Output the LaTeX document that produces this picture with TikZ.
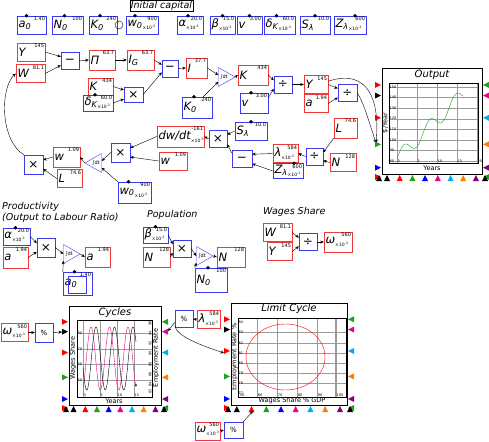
\documentclass[tikz,border=0pt]{standalone}
\usepackage{fontspec}
\setmainfont{DejaVu Sans}
\usepackage{xcolor}
\usepackage{tikz}
\usetikzlibrary{shapes.geometric,arrows.meta}
\definecolor{varred}{HTML}{F03A3A}
\definecolor{parblue}{HTML}{3A3AEE}
\definecolor{gridgray}{HTML}{9A9A9A}
\definecolor{pgreen}{HTML}{1FA01F}

\newcommand{\vf}{\fontsize{5}{5}\selectfont}
\newcommand{\nf}{\fontsize{11.5}{12}\selectfont\itshape}
\newcommand{\tens}{\raisebox{-3pt}{\fontsize{4.5}{5}\selectfont\upshape ×10\textsuperscript{-3}}}
\newcommand{\tk}{\fontsize{3.5}{4}\selectfont}

% ports round a plot frame: x0,y0 (top left), x1,y1 (bottom right)
\newcommand{\plotports}[4]{%
  \foreach \c/\f in {red/0.16,black/0.26,red/0.47,pgreen/0.72,blue/0.94}{%
    \pgfmathsetmacro{\py}{#2+\f*(#4-#2)}
    \fill[\c] (#1-1,\py) -- ++(-6,-3) -- ++(0,6) -- cycle;
  }
  \foreach \c/\f in {pgreen/0.16,magenta/0.26,cyan/0.47,orange/0.72,violet/0.94}{%
    \pgfmathsetmacro{\py}{#2+\f*(#4-#2)}
    \fill[\c] (#3+1,\py) -- ++(6,-3) -- ++(0,6) -- cycle;
  }
  \foreach \c [count=\i from 0] in {black,red,pgreen,blue,magenta,cyan,orange,violet}{%
    \pgfmathsetmacro{\px}{#1+(0.05+0.127*\i)*(#3-#1)}
    \fill[\c] (\px,#4+1) -- ++(-3,6) -- ++(6,0) -- cycle;
  }
  \fill[red] (#1-1,#4+3) -- ++(-6,-3) -- ++(0,6) -- cycle;
  \fill[black] (#1-3,#4+1) -- ++(-3,6) -- ++(6,0) -- cycle;
  \fill[pgreen] (#3+1,#4+3) -- ++(6,-3) -- ++(0,6) -- cycle;
  \fill[black] (#3+3,#4+1) -- ++(-3,6) -- ++(6,0) -- cycle;
}

\tikzset{
  box/.style={rectangle, inner sep=1.5pt, minimum height=18pt, font=\nf, align=left},
  varb/.style={box, draw=varred},
  parb/.style={box, draw=parblue},
  val/.style={label={[anchor=north east, inner sep=1pt, font=\vf]north east:#1}},
  pdot/.style={label={[fill=black, circle, inner sep=1.3pt, anchor=center, xshift=#1]north:{}}},
  pdot/.default=-3pt,
  op/.style={draw=parblue, rectangle, minimum width=18pt, minimum height=17pt, inner sep=0pt,
    font=\fontsize{12}{12}\selectfont},
  intg/.style={draw=parblue, regular polygon, regular polygon sides=3, shape border rotate=-90,
    minimum size=19pt, inner sep=0pt, font=\fontsize{5}{5}\selectfont},
  wire/.style={-{Stealth[length=3.5pt,width=3pt]}, thin},
  ttl/.style={font=\fontsize{9.5}{11}\selectfont\itshape, inner sep=0pt},
  axl/.style={font=\fontsize{6.5}{7}\selectfont, inner sep=0pt},
  tkl/.style={font=\tk, inner sep=0.5pt},
}

\begin{document}
\begin{tikzpicture}[x=1pt, y=-1pt]
\useasboundingbox (0,0) rectangle (489,441);

% initial values row
\node[ttl, draw, inner sep=1pt] (ttlIC) at (161.5,6) {Initial capital};
\node[parb, pdot=-5pt, text width=26pt, val=1.40] (a0t) at (31.5,25) {a\textsubscript{0}};
\node[parb, pdot, text width=28pt, val=100] (N0t) at (67.5,25) {N\textsubscript{0}};
\node[parb, pdot, text width=25pt, val=240] (K0t) at (103,25) {K\textsubscript{0}};
\node[draw, circle, minimum size=8pt, inner sep=0pt] (K0ring) at (119,25) {};
\node[parb, pdot=-7pt, text width=29pt, val=900] (w0t) at (142,25) {w\textsubscript{0}\tens};
\node[parb, pdot=-2pt, text width=23pt, val=20.0] (alt) at (190,25) {α\tens};
\node[parb, pdot=0pt, text width=22pt, val=15.0] (bet) at (222.5,25) {β\tens};
\node[parb, pdot=0pt, text width=22pt, val=3.00] (vt) at (249.5,25) {v};
\node[parb, pdot, text width=28pt, val=60.0] (dKt) at (279.5,25) {δ\textsubscript{K}\tens};
\node[parb, pdot=0pt, text width=27pt, val=10.0] (Slt) at (315,25) {S\textsubscript{λ}};
\node[parb, pdot=5pt, text width=29pt, val=600] (Zlt) at (350,25) {Z\textsubscript{λ}\tens};

% capital and output
\node[varb, text width=25pt, val=145] (Y1) at (31,52) {Y};
\node[varb, text width=26pt, val=81.1] (W1) at (30.5,73.5) {W};
\node[op] (sub1) at (70,61) {−};
\node[varb, text width=23pt, minimum height=20pt, val=63.7] (Pi) at (102,60) {Π};
\node[varb, text width=24pt, minimum height=20pt, val=63.7] (IG) at (140.5,60) {I\textsubscript{G}};
\node[op, minimum width=16pt] (sub2) at (170,68.5) {−};
\node[varb, text width=18pt, minimum height=20pt, val=37.7] (Ib) at (196.5,68) {I};
\node[intg] (int1) at (224,77) {∫dt};
\node[varb, text width=27pt, minimum height=20pt, val=434] (K1) at (253,75) {K};
\node[varb, text width=22pt, minimum height=17pt, val=434] (K2) at (100.5,86.5) {K};
\node[parb, pdot, text width=27pt, minimum height=16pt, val=60.0] (dK) at (98,103) {δ\textsubscript{K}\tens};
\node[op, minimum width=19pt, minimum height=15pt] (mul1) at (133.5,94.5) {×};
\node[parb, pdot, text width=27pt, minimum height=21pt, val=240] (K0m) at (197,107.5) {K\textsubscript{0}};
\node[parb, pdot, text width=25pt, minimum height=20pt, val=3.00] (vm) at (254,103) {v};
\node[op] (div1) at (283,84.5) {÷};
\node[varb, text width=21pt, val=145] (Y2) at (316,84.5) {Y};
\node[varb, text width=21pt, val=1.94] (a2) at (316,103.5) {a};
\node[op, minimum width=19pt] (div2) at (347.5,93) {÷};
\node[varb, text width=20pt, minimum height=20pt, val=74.6] (L2) at (345.5,128) {L};

% employment and wages
\node[parb, pdot=0pt, text width=29pt, val=10.0] (Sl) at (251,131) {S\textsubscript{λ}};
\node[op] (mul2) at (218,139) {×};
\node[varb, text width=44pt, minimum height=21pt, val=-161] (dwdt) at (180.5,136.5) {dw/dt\tens};
\node[op, minimum width=20pt] (sub3) at (242,159) {−};
\node[varb, text width=22pt, val=584] (lam) at (285.5,153.5) {λ\tens};
\node[parb, pdot=6pt, text width=27pt, minimum height=15pt, val=600] (Zl) at (288,171) {Z\textsubscript{λ}\tens};
\node[op, minimum width=17pt] (div3) at (314.5,156.5) {÷};
\node[varb, text width=23pt, val=128] (N2) at (343,162.5) {N};
\node[op, minimum width=19pt, minimum height=19pt] (mul3) at (33.5,164.5) {×};
\node[varb, text width=24pt, minimum height=20pt, val=1.09] (w1) at (66.5,157) {w};
\node[varb, text width=22pt, val=74.6] (L1) at (69.5,178.5) {L};
\node[intg, shape border rotate=90] (int2) at (96,163) {∫dt};
\node[op, minimum width=19pt, minimum height=19pt] (mul4) at (120.5,152.5) {×};
\node[varb, text width=25pt, val=1.09] (w2) at (173,161) {w};
\node[parb, pdot=-6pt, text width=30pt, minimum height=21pt, val=900] (w0m) at (134.5,192.5) {w\textsubscript{0}\tens};

\draw[wire] (Y1.east) -- (sub1.155);
\draw[wire] (W1.east) -- (sub1.205);
\draw[wire] (sub1.east) -- (Pi.west);
\draw[wire] (Pi.east) -- (IG.west);
\draw[wire] (IG.east) -- (sub2.155);
\draw[wire] (mul1.east) -- (sub2.205);
\draw[wire] (K2.east) -- (mul1.155);
\draw[wire] (dK.east) -- (mul1.205);
\draw[wire] (sub2.east) -- (Ib.west);
\draw[wire] (Ib.east) -- (int1.160);
\draw[wire] (int1.east) -- (K1.west);
\draw[wire] (K0m.60) -- (int1.220);
\draw[wire] (K1.east) -- (div1.155);
\draw[wire] (vm.20) -- (div1.205);
\draw[wire] (div1.east) -- (Y2.west);
\draw[wire] (Y2.east) -- (div2.155);
\draw[wire] (a2.east) -- (div2.205);
\coordinate (outP) at (376,143);
\draw[wire] (Y2.15) .. controls (368,68) and (380,100) .. (outP);
\draw[wire] (div2.east) .. controls (363,100) and (370,125) .. (outP);
\draw[wire] (L2.south west) -- (div3.25);
\draw[wire] (N2.west) -- (div3.335);
\draw[wire] (div3.west) -- (lam.east);
\draw[wire] (lam.west) -- (sub3.25);
\draw[wire] (Zl.west) -- (sub3.335);
\draw[wire] (Sl.west) -- (mul2.25);
\draw[wire] (sub3.150) -- (mul2.330);
\draw[wire] (mul2.west) -- (dwdt.east);
\draw[wire] (dwdt.west) -- (mul4.25);
\draw[wire] (w2.west) -- (mul4.335);
\draw[wire] (mul4.west) -- (int2.20);
\draw[wire] (w0m.north west) -- (int2.320);
\draw[wire] (int2.west) -- (w1.east);
\draw[wire] (w1.west) -- (mul3.25);
\draw[wire] (L1.west) -- (mul3.335);
\draw[wire] (mul3.north west) .. controls (0,140) and (0,88) .. (W1.west);

% output plot
\draw[thick] (382,68) rectangle (482,174);
\foreach \gx in {397,417,437,457,477} \draw[gridgray] (\gx,83) -- (\gx,163);
\foreach \v in {80,90,...,150} {
  \draw[gridgray] (389,{161-1.057*(\v-80)}) -- (478,{161-1.057*(\v-80)});
  \node[tkl, anchor=west] (oy\v) at (389,{161-1.057*(\v-80)}) {\v};
}
\foreach \t/\gx in {0/397,5/417,10/437,15/457,20/477}
  \node[tkl, anchor=south west] (ox\t) at (\gx,163) {\t};
\draw (389,83) rectangle (478,163);
\draw[pgreen, domain=0:16.5, samples=80, smooth]
  plot ({397+4*\x}, {161-1.057*(2+3.7*\x+7*sin(55.38*\x))});
\node[ttl, font=\fontsize{10}{11}\selectfont\itshape] (ttlO) at (432,75) {Output};
\node[axl] (xO) at (432,168.5) {Years};
\node[axl, rotate=90] (yO) at (385.5,123) {\$/Year};
\plotports{382}{68}{482}{174}

% productivity
\node[ttl, anchor=north west, align=left] (ttlP) at (2,202) {Productivity\\(Output to Labour Ratio)};
\node[parb, pdot=-1pt, text width=24pt, minimum height=17pt, val=20.0] (alp) at (16.5,236.5) {α\tens};
\node[varb, text width=22pt, minimum height=21pt, val=1.94] (ap) at (15.5,257.5) {a};
\node[op, minimum height=19pt] (mulp) at (46,247.5) {×};
\node[intg] (intp) at (69,254) {∫dt};
\node[varb, text width=22pt, minimum height=20pt, val=1.94] (aout) at (97.5,257) {a};
\node[parb, pdot=-3pt, text width=26pt, minimum height=23pt, val=1.40] (a0p) at (77.5,283.5) {a\textsubscript{0}};
\draw[parblue] (68,276) rectangle (86,293);
\draw[wire] (alp.east) -- (mulp.155);
\draw[wire] (ap.east) -- (mulp.205);
\draw[wire] (mulp.east) -- (intp.west);
\draw[wire] (intp.east) -- (aout.west);
\draw[wire] (a0p.north west) -- (intp.230);

% population
\node[ttl, anchor=west] (ttlN) at (147,215) {Population};
\node[parb, pdot=0pt, text width=22pt, minimum height=16pt, val=15.0] (betp) at (155.5,235) {β\tens};
\node[varb, text width=24pt, minimum height=20pt, val=128] (Np) at (156.5,257) {N};
\node[op] (muln) at (182,248.5) {×};
\node[intg] (intn) at (202,256) {∫dt};
\node[varb, text width=25pt, minimum height=20pt, val=128] (Nout) at (231,257) {N};
\node[parb, pdot=-3pt, text width=29pt, minimum height=24pt, val=100] (N0p) at (211,280) {N\textsubscript{0}};
\draw[wire] (betp.east) -- (muln.155);
\draw[wire] (Np.east) -- (muln.205);
\draw[wire] (muln.east) -- (intn.west);
\draw[wire] (intn.east) -- (Nout.west);
\draw[wire] (N0p.north west) -- (intn.230);

% wages share
\node[ttl, anchor=west] (ttlW) at (263,212) {Wages Share};
\node[varb, text width=26pt, val=81.1] (Ww) at (277.5,232.5) {W};
\node[varb, text width=22pt, val=145] (Yw) at (279.5,251.5) {Y};
\node[op] (divw) at (308,242) {÷};
\node[varb, text width=25pt, minimum height=20pt, val=560] (om) at (338,242) {ω\tens};
\draw[wire] (Ww.east) -- (divw.155);
\draw[wire] (Yw.east) -- (divw.205);
\draw[wire] (divw.east) -- (om.west);

% cycles plot
\draw[thick] (69,306) rectangle (161,405);
\foreach \gx in {83,100,117,134} \draw[gridgray] (\gx,320) -- (\gx,397);
\foreach \gy in {333,349,364,380} \draw[gridgray] (77,\gy) -- (152,\gy);
\draw (77,320) rectangle (152,397);
\foreach \v/\gy in {80/333,70/349,60/364,50/380}
  \node[tkl, anchor=west] (cl\v) at (77,\gy) {\v};
\foreach \v/\gy in {96/323,94/333,92/343,90/353,88/364,86/374,84/384,82/391}
  \node[tkl, rotate=90, anchor=south] (cr\v) at (152,\gy) {\v};
\foreach \t/\gx in {0/83,5/100,10/117,15/134}
  \node[tkl, anchor=south west] (cx\t) at (\gx,397) {\t};
\draw[magenta, domain=83:136, samples=120, smooth] plot (\x, {358.5-31.5*cos(19.46*(\x-91))});
\draw[black, domain=83:136, samples=120, smooth] plot (\x, {358.5-31.5*cos(19.46*(\x-96))});
\fill (136,385) circle (1pt);
\node[ttl, font=\fontsize{10}{11}\selectfont\itshape] (ttlC) at (115,313) {Cycles};
\node[axl] (xC) at (114,401) {Years};
\node[axl, rotate=90] (yC) at (73,358) {Wages Share};
\node[axl, rotate=90] (yC2) at (156,358) {Employment Rate};
\plotports{69}{306}{161}{405}

\node[varb, text width=24pt, val=560] (omc) at (14.5,332.5) {ω\tens};
\node[op, minimum height=19pt, font=\fontsize{7}{7}\selectfont] (pct1) at (44,332.5) {\%};
\node[op, font=\fontsize{7}{7}\selectfont] (pct2) at (184,319) {\%};
\node[varb, text width=20pt, val=584] (lamc) at (208.5,319.5) {λ\tens};
\coordinate (cycL) at (62,332);
\coordinate (cycR) at (168,331);
\coordinate (lcL) at (224,353);
\draw[wire] (omc.east) -- (pct1.west);
\draw[wire] (pct1.east) -- (cycL);
\draw[wire] (lamc.west) -- (pct2.east);
\draw[wire] (pct2.200) -- (cycR);
\draw[wire] (pct2.215) .. controls (176,336) and (200,345) .. (lcL);

% limit cycle plot
\draw[thick] (231,303) rectangle (347,405);
\foreach \gx in {257,277,297,317,336} \draw[gridgray] (\gx,318) -- (\gx,397);
\draw[gridgray, line width=1.2pt] (336,318) -- (336,397);
\foreach \gy in {332,343,353,363,373,383} \draw[gridgray] (238,\gy) -- (346,\gy);
\draw (238,318) rectangle (346,397);
\foreach \v/\gy in {84/322,83/332,82/343,81/353,80/363,79/373,78/383,77/393}
  \node[tkl, anchor=west] (ly\v) at (238,\gy) {\v};
\foreach \v/\gx in {50/242,60/260,70/280,80/300,90/320,100/340}
  \node[tkl, anchor=south] (lx\v) at (\gx,397) {\v};
\draw[red] (285.5,357) ellipse [x radius=39.5, y radius=33];
\node[ttl, font=\fontsize{10}{11}\selectfont\itshape] (ttlL) at (289,309) {Limit Cycle};
\node[axl] (xL) at (292,401) {Wages Share \% GDP};
\node[axl, rotate=90] (yL) at (234.5,357) {Employment Rate \%};
\plotports{231}{303}{347}{405}

\node[varb, text width=22pt, val=560] (omb) at (207.5,431) {ω\tens};
\node[op, minimum width=19pt, minimum height=16pt, font=\fontsize{7}{7}\selectfont] (pct3) at (233.5,430) {\%};
\coordinate (lcB) at (253,411);
\draw[wire] (omb.east) -- (pct3.west);
\draw[wire] (pct3.north east) -- (lcB);
\end{tikzpicture}
\end{document}
